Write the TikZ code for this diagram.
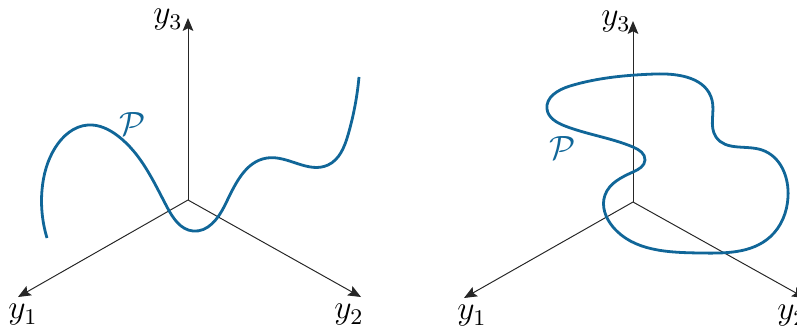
\documentclass[tikz,border=0pt]{standalone}
\usetikzlibrary{arrows.meta,hobby}
\definecolor{curveblue}{RGB}{16,102,152}
\begin{document}
\begin{tikzpicture}[x=0.012547cm,y=-0.012547cm,
  axis/.style={line width=0.35pt,draw=black!85,-{Stealth[length=4.6pt,width=3.8pt,inset=0.9pt]}},
  pathcurve/.style={curveblue,line width=1pt},
  lab/.style={inner sep=0pt,font=\fontsize{12}{14}\selectfont},
  plab/.style={inner sep=0pt,text=curveblue,font=\fontsize{12}{14}\selectfont}]
\useasboundingbox (0,0) rectangle (797,327);
% left panel
\coordinate (O1) at (188,200);
\coordinate (A1) at (18,297);
\coordinate (B1) at (361,297);
\coordinate (C1) at (188,18);
\draw[axis] (O1) -- (A1);
\draw[axis] (O1) -- (B1);
\draw[axis] (O1) -- (C1);
\node[lab] (l1) at (23,315) {$y_1$};
\node[lab] (l2) at (349,315) {$y_2$};
\node[lab] (l3) at (168,20) {$y_3$};
\draw[pathcurve] (47,238) to[curve through={(42,190) (55,148) (88,125) (118,136) (167,207) (193,231) (225,205) (267,158) (328,165) (348,135)}] (359,77);
\node[plab] (p1) at (133,124) {$\mathcal{P}$};
% right panel
\coordinate (O2) at (633,202);
\coordinate (A2) at (464,298);
\coordinate (B2) at (805,298);
\coordinate (C2) at (633,21);
\draw[axis] (O2) -- (A2);
\draw[axis] (O2) -- (B2);
\draw[axis] (O2) -- (C2);
\node[lab] (r1) at (472,316) {$y_1$};
\node[lab] (r2) at (792,316) {$y_2$};
\node[lab] (r3) at (616,22) {$y_3$};
\draw[pathcurve] (655,74) to[closed,curve through={(570,86) (547,109) (565,126) (633,147) (645,160) (633,172)
 (605,195) (613,227) (700,253) (770,237) (788,197) (762,150) (716,137) (712,100)}] (655,74);
\node[plab] (p2) at (563,148) {$\mathcal{P}$};
\end{tikzpicture}
\end{document}
